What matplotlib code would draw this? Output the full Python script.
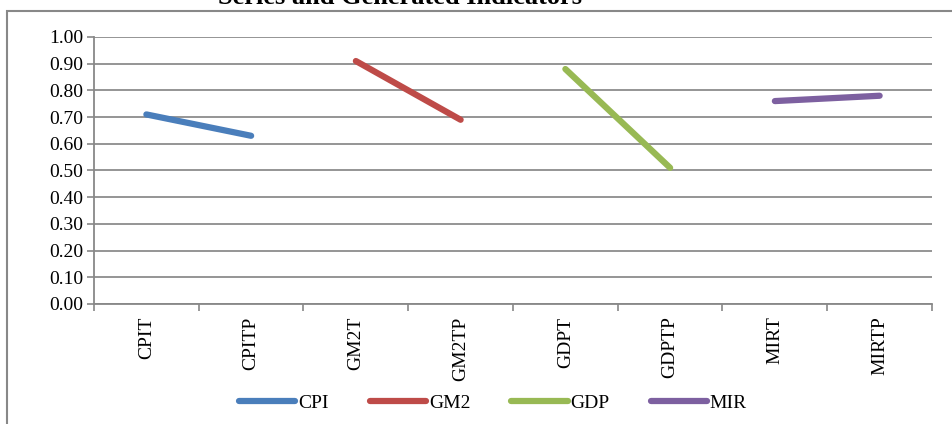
import matplotlib
matplotlib.use("Agg")
import matplotlib.pyplot as plt
from matplotlib.patches import Rectangle
import numpy as np

categories = ["CPIT", "CPITP", "GM2T", "GM2TP", "GDPT", "GDPTP", "MIRT", "MIRTP"]
series_names = ["CPI", "GM2", "GDP", "MIR"]
cpi = [0.71, 0.63]
gm2 = [0.91, 0.69]
gdp = [0.88, 0.51]
mir = [0.76, 0.78]
series_values = [cpi, gm2, gdp, mir]
colors = ["#4a7ebb", "#be4b48", "#98b954", "#7d60a0"]
y_ticks = [0.0, 0.1, 0.2, 0.3, 0.4, 0.5, 0.6, 0.7, 0.8, 0.9, 1.0]

plt.rcParams["font.family"] = ["Liberation Serif", "DejaVu Serif"]
FS = 14

W, H = 953, 424
fig = plt.figure(figsize=(W / 100, H / 100), dpi=100)

# outer chart frame
fig.patches.append(Rectangle((7.5 / W, -0.05), 1.0, 1 - 10.5 / H + 0.05,
                             transform=fig.transFigure, fill=False,
                             edgecolor="#888888", linewidth=1.5))

fig.text(400 / W, 1 - 3.5 / H, "Series and Generated Indicators",
         ha="center", va="baseline", fontsize=19, fontweight="bold")

left, right, top, bottom = 94, 932, 37, 304
ax = fig.add_axes([left / W, 1 - bottom / H, (right - left) / W, (bottom - top) / H])

x = np.arange(len(categories))
for i, (name, vals, c) in enumerate(zip(series_names, series_values, colors)):
    ax.plot(x[2 * i:2 * i + 2], vals, color=c, linewidth=4.5,
            solid_capstyle="round", label=name)

ax.set_xlim(-0.5, len(categories) - 0.5)
ax.set_ylim(0, 1.0)
ax.set_yticks(y_ticks)
ax.set_yticklabels([f"{v:.2f}" for v in y_ticks], fontsize=FS)
ax.set_xticks(x)
ax.set_xticklabels(categories, rotation=90, fontsize=FS)
ax.set_xticks(np.arange(-0.5, len(categories)), minor=True)
ax.tick_params(axis="x", which="major", length=0, pad=9)
ax.tick_params(axis="x", which="minor", length=5, color="#888888", width=1.2)
ax.tick_params(axis="y", length=5, color="#888888", width=1.2, pad=3)

ax.grid(axis="y", color="#8c8c8c", linewidth=1.3)
ax.set_axisbelow(True)
for s in ["top", "right"]:
    ax.spines[s].set_visible(False)
for s in ["left", "bottom"]:
    ax.spines[s].set_color("#888888")
    ax.spines[s].set_linewidth(1.3)

fig.legend(loc="center", bbox_to_anchor=(493 / W, 1 - 403 / H), ncol=4,
           frameon=False, fontsize=FS, handlelength=2.9, handletextpad=0.15,
           columnspacing=2.1)

fig.savefig("out.png", dpi=100)
